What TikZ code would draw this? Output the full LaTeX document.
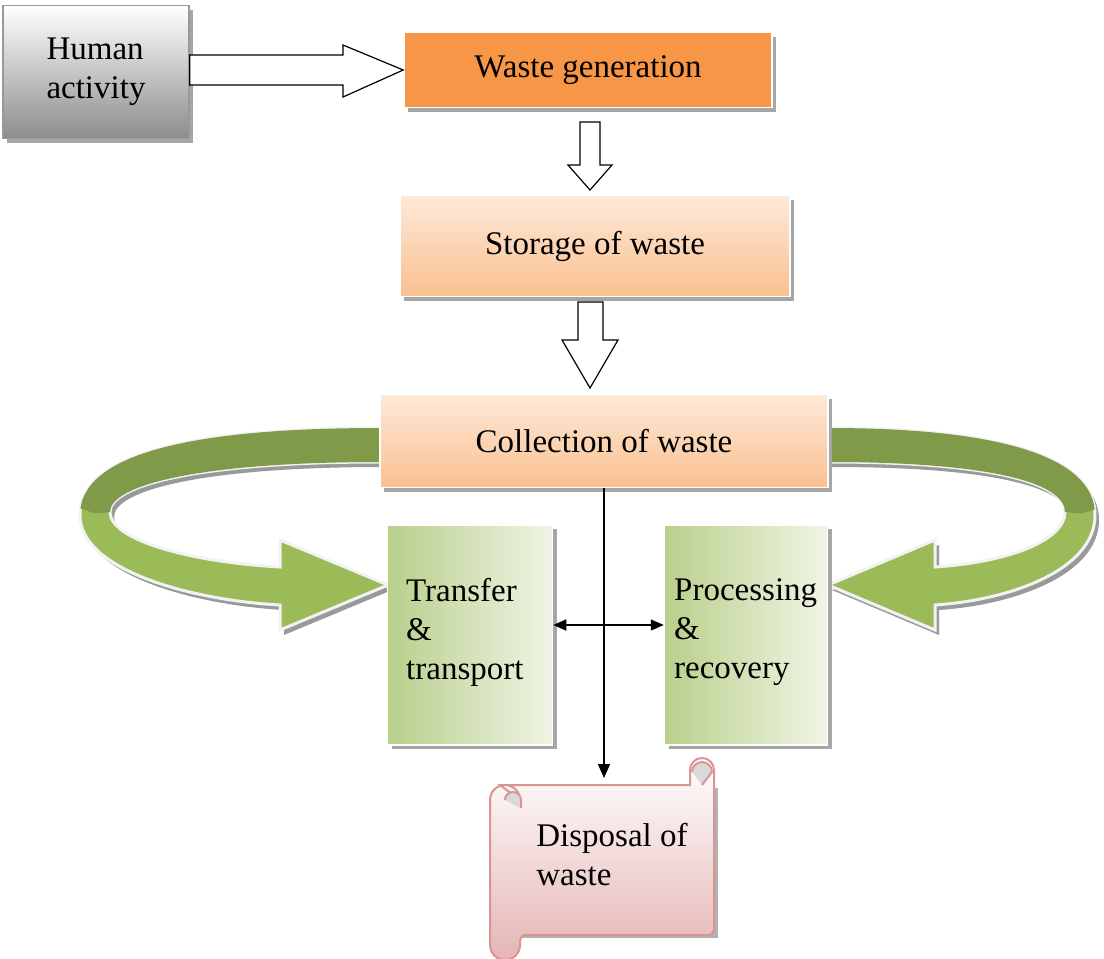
\documentclass[tikz,border=0pt]{standalone}
\usepackage{fontspec}
\setmainfont{Liberation Serif}
\usetikzlibrary{shadows,arrows.meta}
\definecolor{org}{HTML}{F79646}
\definecolor{peach}{HTML}{FAC090}
\definecolor{dgreen}{HTML}{7F9A48}
\definecolor{lgreen}{HTML}{9BBB59}
\definecolor{pinkb}{HTML}{D99594}
\begin{document}
\begin{tikzpicture}[x=1pt,y=-1pt,
  txt/.style={font=\fontsize{33}{39}\selectfont},
  shad/.style={drop shadow={shadow xshift=4pt,shadow yshift=-4pt,fill=black!35,opacity=1}},
  pbox/.style={shad,draw=white,line width=1.5pt,top color=peach!35,bottom color=peach,txt,inner sep=0pt},
  gbox/.style={shad,draw=white,line width=1.5pt,left color=lgreen!70,right color=lgreen!15,txt,inner sep=0pt},
  hollow/.style={draw=black,line width=1.2pt,fill=white},
  garrow/.style={draw=white!95!black,line width=3pt}]
\useasboundingbox (0,0) rectangle (1104,959);
% green curved arrows (behind boxes)
\path[fill=black!40,shift={(4,5)}] (380,428) .. controls (170,428) and (80,460) .. (80,515) .. controls (80,570) and (190,600) .. (280,605) -- (280,630) -- (388,585) -- (280,540) -- (280,567) .. controls (190,562) and (110,540) .. (110,512) .. controls (110,485) and (200,462) .. (380,462) -- cycle;
\path[garrow,fill=lgreen] (380,428) .. controls (170,428) and (80,460) .. (80,515) .. controls (80,570) and (190,600) .. (280,605) -- (280,630) -- (388,585) -- (280,540) -- (280,567) .. controls (190,562) and (110,540) .. (110,512) .. controls (110,485) and (200,462) .. (380,462) -- cycle;
\begin{scope}
\clip (60,400) -- (380,400) -- (380,470) -- (115,520) -- (70,505) -- cycle;
\path[fill=dgreen] (380,428) .. controls (170,428) and (80,460) .. (80,515) -- (110,512) .. controls (110,485) and (200,462) .. (380,462) -- cycle;
\end{scope}
\path[fill=black!40,shift={(4,5)}] (828,428) .. controls (1010,428) and (1095,460) .. (1095,515) .. controls (1095,570) and (1010,600) .. (935,605) -- (935,630) -- (828,585) -- (935,540) -- (935,567) .. controls (1010,562) and (1065,540) .. (1065,512) .. controls (1065,485) and (1000,462) .. (828,462) -- cycle;
\path[garrow,fill=lgreen] (828,428) .. controls (1010,428) and (1095,460) .. (1095,515) .. controls (1095,570) and (1010,600) .. (935,605) -- (935,630) -- (828,585) -- (935,540) -- (935,567) .. controls (1010,562) and (1065,540) .. (1065,512) .. controls (1065,485) and (1000,462) .. (828,462) -- cycle;
\begin{scope}
\clip (828,400) -- (1110,400) -- (1110,505) -- (1060,520) -- (828,470) -- cycle;
\path[fill=dgreen] (828,428) .. controls (1010,428) and (1095,460) .. (1095,515) -- (1065,512) .. controls (1065,485) and (1000,462) .. (828,462) -- cycle;
\end{scope}
\node[shad,draw=black!40,line width=1.5pt,top color=white,bottom color=black!45,minimum width=186pt,minimum height=133pt,txt,align=left] (hum) at (96,72) {Human\\activity};
\node[shad,draw=white,line width=1.5pt,fill=org,minimum width=368pt,minimum height=75pt,txt] (gen) at (588,70) {Waste generation};
\node[pbox,minimum width=390pt,minimum height=101pt] (sto) at (595,246) {Storage of waste};
\node[pbox,minimum width=448pt,minimum height=93pt] (col) at (604,441) {Collection of waste};
\node[gbox,minimum width=165pt,minimum height=220pt] (tra) at (470,635) {};
\node[txt,align=left,anchor=north west,inner sep=0pt] (trat) at (406,578) {Transfer\\\&\\transport};
\node[gbox,minimum width=163pt,minimum height=220pt] (pro) at (746,635) {};
\node[txt,align=left,anchor=north west,inner sep=0pt] (prot) at (674,578) {Processing\\\&\\recovery};
% hollow arrows
\draw[hollow] (hum.east|-0,55) -- (343,55) -- (343,45) -- (gen.west|-0,70) -- (343,97) -- (343,85) -- (hum.east|-0,85) -- cycle;
\draw[hollow] (580,122) -- (600,122) -- (600,165) -- (612,165) -- (590,190) -- (568,165) -- (580,165) -- cycle;
\draw[hollow] (578,302) -- (603,302) -- (603,340) -- (618,340) -- (590,388) -- (562,340) -- (578,340) -- cycle;
% scroll
\fill[black!30] (506,788) rectangle (718,938);
\draw[pinkb,line width=2pt,top color=white,bottom color=pinkb!70] (500,785) -- (690,785) -- (690,770) arc (180:360:12) -- (714,925) [rounded corners=6pt]-- (714,935) -- (520,935) [sharp corners]-- (520,945) arc (0:180:15) -- (490,800) arc (180:360:15) -- cycle;
\draw[pinkb,line width=2pt,fill=black!15] (505,800) arc (180:360:8) -- (521,808);
\draw[pinkb,line width=2pt,fill=black!15] (692,772) arc (180:360:10) -- (702,785);
\node[txt,align=left] (dis) at (612,855) {Disposal of\\waste};
\coordinate (dtop) at (604,778);
% connectors
\draw[line width=1.5pt,-{Triangle[length=14pt,width=12pt]}] (col.south) -- (dtop);
\draw[line width=1.5pt,{Triangle[length=13pt,width=11pt]}-{Triangle[length=13pt,width=11pt]}] (tra.east|-0,625) -- (pro.west|-0,625);
\end{tikzpicture}
\end{document}
